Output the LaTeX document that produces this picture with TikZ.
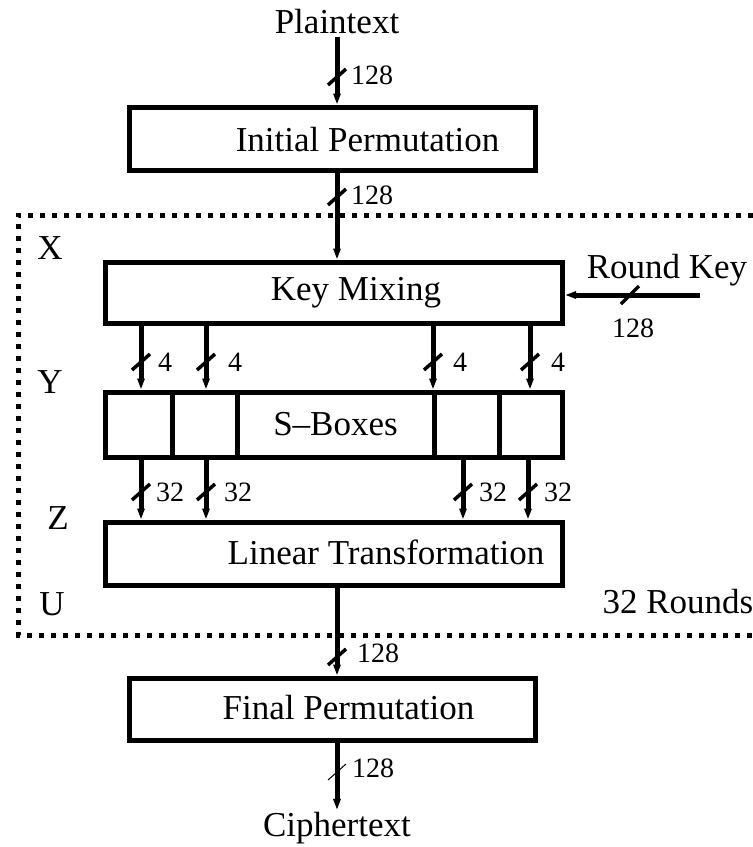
\documentclass[tikz,border=0pt]{standalone}
\usepackage{fontspec}
\setmainfont{Liberation Serif}
\usetikzlibrary{calc,arrows.meta}

\begin{document}
\begin{tikzpicture}[x=1pt,y=-1pt,
    box/.style={draw,line width=5pt,inner sep=0pt,minimum width=457pt,minimum height=63pt},
    cell/.style={draw,line width=5pt,inner sep=0pt,minimum height=65pt},
    arr/.style={line width=5pt,-{Triangle[length=11pt,width=7pt]}},
    slash/.style={line width=3.5pt},
    txt/.style={inner sep=2pt,font=\fontsize{35}{42}\selectfont},
    num/.style={inner sep=1pt,font=\fontsize{28}{34}\selectfont}]
  \useasboundingbox (0,0) rectangle (753,847);
  \coordinate (m) at (337,0);
  \coordinate (c1) at (141,0);
  \coordinate (c2) at (206,0);
  \coordinate (c3) at (433,0);
  \coordinate (c4) at (530,0);
  \coordinate (d3) at (463,0);
  \coordinate (d4) at (528,0);
  \coordinate (rk) at (700,295);
  \draw[line width=5pt,dash pattern=on 5pt off 7pt] (753,215)--(18,215)--(18,635)--(753,635);
  \node[txt] (pt) at (337,22) {Plaintext};
  \node[box,minimum width=406pt] (ip) at (332.5,138.5) {};
  \node[txt] (iptxt) at ($(ip)+(35,1)$) {Initial Permutation};
  \node[box,minimum height=61pt] (km) at (334,292.5) {};
  \node[txt] (kmtxt) at ($(km)+(22,0)$) {Key Mixing};
  \node[cell,minimum width=66.5pt] (sb1) at (138.75,424.5) {};
  \node[cell,minimum width=65pt] (sb2) at (204.5,424.5) {};
  \node[cell,minimum width=197pt,txt,inner sep=0pt] (sb3) at (335.5,424.5) {S--Boxes};
  \node[cell,minimum width=65pt] (sb4) at (466.5,424.5) {};
  \node[cell,minimum width=63.5pt] (sb5) at (530.75,424.5) {};
  \node[box] (lt) at (334,553.5) {};
  \node[txt] (lttxt) at ($(lt)+(52,-1)$) {Linear Transformation};
  \node[box,minimum width=406pt,minimum height=62pt] (fp) at (332.5,709) {};
  \node[txt] (fptxt) at ($(fp)+(16,-1)$) {Final Permutation};
  \node[txt] (ct) at (337,828) {Ciphertext};
  \node[txt] (rklbl) at (667,270) {Round Key};
  \node[txt] (x) at (50,248) {X};
  \node[txt] (y) at (50,382) {Y};
  \node[txt] (z) at (58,518) {Z};
  \node[txt] (u) at (52,604) {U};
  \node[txt] (rounds) at (678,602) {32 Rounds};
  \draw[arr] (pt.south)--(pt.south |- ip.north);
  \draw[arr] (m |- ip.south)--(m |- km.north);
  \draw[arr] (rk)--(rk -| km.east);
  \draw[arr] (c1 |- km.south)--(c1 |- sb1.north);
  \draw[arr] (c2 |- km.south)--(c2 |- sb2.north);
  \draw[arr] (c3 |- km.south)--(c3 |- sb3.north);
  \draw[arr] (c4 |- km.south)--(c4 |- sb5.north);
  \draw[arr] (c1 |- sb1.south)--(c1 |- lt.north);
  \draw[arr] (c2 |- sb2.south)--(c2 |- lt.north);
  \draw[arr] (d3 |- sb4.south)--(d3 |- lt.north);
  \draw[arr] (d4 |- sb5.south)--(d4 |- lt.north);
  \draw[arr] (m |- lt.south)--(m |- fp.north);
  \draw[arr] (m |- fp.south)--(ct.north);
  \draw[slash] (337,77)++(-9,8)--++(18,-16);
  \draw[slash] (337,197)++(-9,8)--++(18,-16);
  \draw[slash] (630,295)++(-9,9)--++(18,-18);
  \draw[slash] (141,362)++(-9,8)--++(18,-16);
  \draw[slash] (206,362)++(-9,8)--++(18,-16);
  \draw[slash] (433,362)++(-9,8)--++(18,-16);
  \draw[slash] (530,362)++(-9,8)--++(18,-16);
  \draw[slash] (141,492)++(-9,8)--++(18,-16);
  \draw[slash] (206,492)++(-9,8)--++(18,-16);
  \draw[slash] (463,492)++(-9,8)--++(18,-16);
  \draw[slash] (528,492)++(-9,8)--++(18,-16);
  \draw[slash] (337,657)++(-9,8)--++(18,-16);
  \draw[line width=1pt] (337,772)++(-9,8)--++(18,-16);
  \node[num] (n1) at (372,75) {128};
  \node[num] (n2) at (372,195) {128};
  \node[num] (n3) at (633,328) {128};
  \node[num] (f1) at (165,362) {4};
  \node[num] (f2) at (235,362) {4};
  \node[num] (f3) at (460,362) {4};
  \node[num] (f4) at (558,362) {4};
  \node[num] (t1) at (170,492) {32};
  \node[num] (t2) at (238,492) {32};
  \node[num] (t3) at (493,492) {32};
  \node[num] (t4) at (558,492) {32};
  \node[num] (n4) at (378,653) {128};
  \node[num] (n5) at (373,768) {128};
\end{tikzpicture}
\end{document}
